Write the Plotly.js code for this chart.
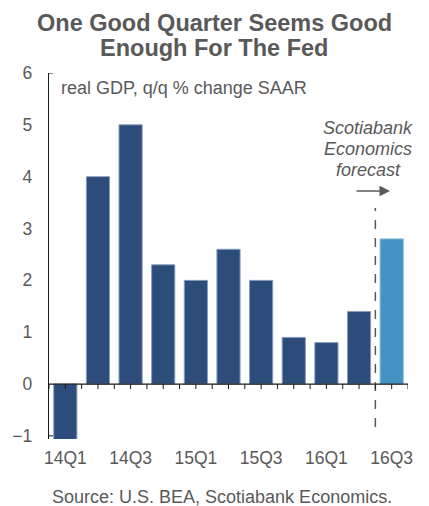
<!DOCTYPE html>
<html>
<head>
<meta charset="utf-8">
<script src="https://cdn.plot.ly/plotly-3.0.1.min.js"></script>
<style>html,body{margin:0;padding:0;background:#fff;}#chart{width:429px;height:506px;}</style>
</head>
<body>
<div id="chart"></div>
<script>
// ---- data ----
const categories = ['14Q1','14Q2','14Q3','14Q4','15Q1','15Q2','15Q3','15Q4','16Q1','16Q2','16Q3'];
const gdpGrowth = [-1.1, 4.0, 5.0, 2.3, 2.0, 2.6, 2.0, 0.9, 0.8, 1.4, 2.8];
const isForecast = [false,false,false,false,false,false,false,false,false,false,true];
const yTickVals = [-1, 0, 1, 2, 3, 4, 5, 6];

// ---- layout constants ----
const W = 429, H = 506;
const M = {l: 49, r: 21, t: 73, b: 67};
const plotW = W - M.l - M.r, plotH = H - M.t - M.b;
const yMin = -1.06, yMax = 6;
const px = p => (p - M.l) / plotW;
const py = p => (H - M.b - p) / plotH;
const yPerPx = (yMax - yMin) / plotH;

const FONT = '"Liberation Sans", Arial, sans-serif';
const GREY = '#595959';
const AXIS = '#1a1a1a';
const DARK = '#2C4C7C';
const LIGHT = '#4394C4';

const idx = categories.map((c, i) => i);
const labelVals = idx.filter(i => i % 2 === 0);
const labelText = labelVals.map(i => categories[i]);
const halfTicks = [];
for (let v = -0.5; v <= categories.length - 0.5 + 1e-9; v += 0.5) halfTicks.push(v);
const firstForecast = isForecast.indexOf(true);

const traces = [
  {
    type: 'bar',
    x: idx,
    y: gdpGrowth,
    marker: {
      color: isForecast.map(f => f ? LIGHT : DARK),
      line: {color: isForecast.map(f => f ? '#8CB8D8' : '#8A9DBA'), width: 1}
    },
    width: 0.71,
    hoverinfo: 'skip'
  }
];

// tick marks hanging below the zero line (axis decoration)
const tickShapes = halfTicks.map(v => ({
  type: 'line', xref: 'x', yref: 'y', layer: 'above',
  x0: v, x1: v, y0: 0, y1: -5 * yPerPx, line: {color: AXIS, width: 1}
}));

const layout = {
  width: W, height: H,
  margin: M,
  paper_bgcolor: '#fff', plot_bgcolor: '#fff',
  showlegend: false,
  font: {family: FONT, color: GREY, size: 17},
  xaxis: {
    range: [-0.5, categories.length - 0.5],
    tickmode: 'array', tickvals: labelVals, ticktext: labelText,
    ticks: '', showline: false, showgrid: false, zeroline: false,
    tickfont: {family: FONT, size: 17.5, color: GREY},
    ticklabelstandoff: 6,
    fixedrange: true
  },
  yaxis: {
    range: [yMin, yMax],
    tickmode: 'array', tickvals: yTickVals,
    ticks: '', showgrid: false, zeroline: false,
    showline: true, linecolor: AXIS, linewidth: 1.2,
    tickfont: {family: FONT, size: 17.5, color: GREY},
    ticklabelstandoff: 12,
    fixedrange: true
  },
  shapes: [
    {type: 'line', xref: 'paper', yref: 'y', layer: 'above', x0: 0, x1: 1, y0: 0, y1: 0,
     line: {color: AXIS, width: 1.3}},
    {type: 'line', xref: 'paper', yref: 'y', layer: 'above', x0: 0, x1: px(53), y0: yMax, y1: yMax,
     line: {color: AXIS, width: 1}},
    {type: 'line', xref: 'paper', yref: 'y', layer: 'above', x0: 0, x1: px(53), y0: -1, y1: -1,
     line: {color: AXIS, width: 1}},
    {type: 'line', xref: 'x', yref: 'paper', layer: 'above', x0: firstForecast - 0.5, x1: firstForecast - 0.5,
     y0: py(427), y1: py(208), line: {color: GREY, width: 1.5, dash: 'dash'}}
  ].concat(tickShapes),
  annotations: [
    {text: '<b>One Good Quarter Seems Good</b>', xref: 'paper', yref: 'paper',
     x: px(214), y: py(23), xanchor: 'center', yanchor: 'middle', showarrow: false,
     font: {family: FONT, size: 23.5, color: GREY}},
    {text: '<b>Enough For The Fed</b>', xref: 'paper', yref: 'paper',
     x: px(214), y: py(48), xanchor: 'center', yanchor: 'middle', showarrow: false,
     font: {family: FONT, size: 23.5, color: GREY}},
    {text: 'real GDP, q/q % change SAAR', xref: 'paper', yref: 'paper',
     x: px(59), y: py(88), xanchor: 'left', yanchor: 'middle', showarrow: false,
     font: {family: FONT, size: 18, color: GREY}},
    {text: '<i>Scotiabank</i>', xref: 'paper', yref: 'paper',
     x: px(368), y: py(128), xanchor: 'center', yanchor: 'middle', showarrow: false,
     font: {family: FONT, size: 18, color: GREY}},
    {text: '<i>Economics</i>', xref: 'paper', yref: 'paper',
     x: px(368), y: py(149), xanchor: 'center', yanchor: 'middle', showarrow: false,
     font: {family: FONT, size: 18, color: GREY}},
    {text: '<i>forecast</i>', xref: 'paper', yref: 'paper',
     x: px(368), y: py(170), xanchor: 'center', yanchor: 'middle', showarrow: false,
     font: {family: FONT, size: 18, color: GREY}},
    {text: '', xref: 'paper', yref: 'paper', x: px(390), y: py(191),
     ax: -35, ay: 0, showarrow: true, arrowhead: 2, arrowsize: 1.4, arrowwidth: 1.5,
     arrowcolor: GREY},
    {text: 'Source: U.S. BEA, Scotiabank Economics.', xref: 'paper', yref: 'paper',
     x: px(222), y: py(497), xanchor: 'center', yanchor: 'middle', showarrow: false,
     font: {family: FONT, size: 18, color: GREY}}
  ]
};

Plotly.newPlot('chart', traces, layout, {displayModeBar: false, staticPlot: true});
</script>
</body>
</html>
